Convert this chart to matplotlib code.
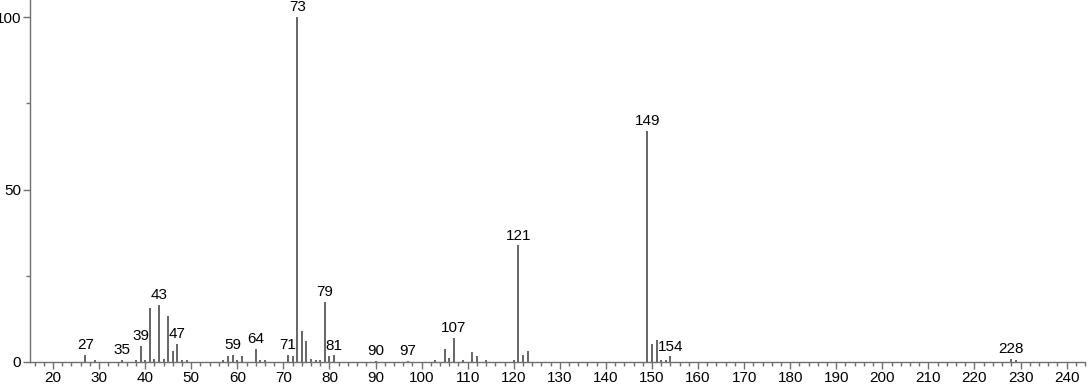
import matplotlib
matplotlib.use('Agg')
import matplotlib.pyplot as plt
from matplotlib.ticker import MultipleLocator

# m/z values and relative intensities
mz = [27, 29, 35, 38, 39, 40, 41, 42, 43, 44, 45, 46, 47, 48, 49,
      57, 58, 59, 60, 61, 64, 65, 66, 71, 72, 73, 74, 75, 76, 77, 78,
      79, 80, 81, 90, 97, 103, 105, 106, 107, 109, 111, 112, 114, 120,
      121, 122, 123, 149, 150, 151, 152, 153, 154, 228, 229]
intensity = [2.0, 0.6, 0.6, 0.6, 4.6, 0.7, 15.6, 1.0, 16.6, 1.0, 13.4, 3.1, 5.2, 0.7, 0.6,
             0.7, 1.6, 2.1, 0.7, 1.6, 3.7, 0.7, 0.7, 2.1, 1.6, 100.0, 8.9, 6.2, 1.0, 0.7, 0.7,
             17.5, 1.7, 1.9, 0.4, 0.4, 0.5, 3.8, 1.2, 6.9, 0.7, 2.8, 1.7, 0.5, 0.7,
             33.8, 2.0, 3.1, 67.0, 5.3, 6.3, 0.7, 0.6, 1.6, 0.8, 0.5]
labeled = [27, 35, 39, 43, 47, 59, 64, 71, 73, 79, 81, 90, 97, 107, 121, 149, 154, 228]

plt.rcParams['font.family'] = ['Liberation Sans', 'DejaVu Sans']

fig = plt.figure(figsize=(10.91, 3.87), dpi=100)
ax = fig.add_axes([0.0275, 0.0646, 0.967, 0.9354])

ax.vlines(mz, 0, intensity, color='#3c3c3c', linewidth=1.1)

peak = dict(zip(mz, intensity))
for m in labeled:
    ax.annotate(str(m), (m, peak[m]), xytext=(0, 2), textcoords='offset points',
                ha='center', va='bottom', fontsize=11, color='black')

ax.set_xlim(15, 244)
ax.set_ylim(0, 105)

ax.set_xticks(range(20, 241, 10))
ax.xaxis.set_minor_locator(MultipleLocator(2))
ax.set_yticks([0, 50, 100])
ax.yaxis.set_minor_locator(MultipleLocator(25))

for side in ['top', 'right']:
    ax.spines[side].set_visible(False)
for side in ['left', 'bottom']:
    ax.spines[side].set_color('#707070')
    ax.spines[side].set_linewidth(1.0)

ax.tick_params(axis='both', which='major', length=5, width=1, color='#707070',
               labelsize=11, pad=1.5)
ax.tick_params(axis='both', which='minor', length=3, width=1, color='#707070')

fig.savefig('out.png', dpi=100)
